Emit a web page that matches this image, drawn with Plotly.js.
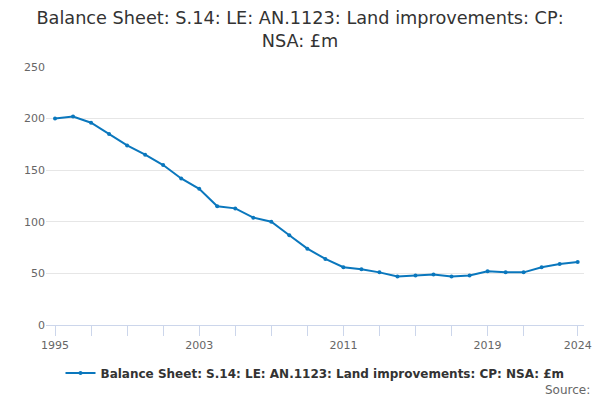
<!DOCTYPE html>
<html><head><meta charset="utf-8">
<script src="https://cdn.plot.ly/plotly-3.0.1.min.js"></script>
<style>html,body{margin:0;padding:0;background:#fff}#chart{width:600px;height:400px}</style>
</head><body><div id="chart"></div>
<script>
const years = [1995,1996,1997,1998,1999,2000,2001,2002,2003,2004,2005,2006,2007,2008,2009,2010,2011,2012,2013,2014,2015,2016,2017,2018,2019,2020,2021,2022,2023,2024];
const values = [200,202,196,185,174,165,155,142,132,115,113,104,100,87,74,64,56,54,51,47,48,49,47,48,52,51,51,56,59,61];
const tickYears = [1995,1997,1999,2001,2003,2005,2007,2009,2011,2013,2015,2017,2019,2021,2024];
const labelledYears = [1995,2003,2011,2019,2024];
const seriesName = "Balance Sheet: S.14: LE: AN.1123: Land improvements: CP: NSA: £m";

const font = "DejaVu Sans, sans-serif";
Plotly.newPlot("chart", [{
  x: years, y: values, type: "scatter", mode: "lines+markers", name: seriesName,
  line: {color: "#0a77bd", width: 2},
  marker: {color: "#0a77bd", size: 4}
}], {
  width: 600, height: 400,
  margin: {l: 46, r: 16, t: 67, b: 71},
  paper_bgcolor: "#fff", plot_bgcolor: "#fff",
  font: {family: font, color: "#666"},
  title: {text: "Balance Sheet: S.14: LE: AN.1123: Land improvements: CP:<br>NSA: £m",
          font: {family: font, size: 17.7, color: "#333"}, x: 0.5, xanchor: "center",
          yref: "container", y: 0.94, yanchor: "top"},
  xaxis: {range: [1994.5, 2024.35], tickmode: "array", tickvals: tickYears,
          ticktext: tickYears.map(y => labelledYears.includes(y) ? String(y) : ""),
          ticks: "outside", ticklen: 10, tickcolor: "#ccd6eb", showline: true, linecolor: "#ccd6eb",
          showgrid: false, zeroline: false, tickfont: {size: 11, color: "#666"}},
  yaxis: {range: [0, 250], tickvals: [0,50,100,150,200,250], gridcolor: "#e6e6e6",
          zeroline: false, showline: false, ticks: "", tickfont: {size: 11, color: "#666"}},
  showlegend: true,
  legend: {orientation: "h", x: 0.5, xanchor: "center", y: -0.13, yanchor: "top", itemwidth: 30,
           font: {family: font, size: 12, color: "#333", weight: "bold"}},
  annotations: [{text: "Source:", xref: "paper", yref: "paper", x: 1.015, xanchor: "right",
                 y: -0.218, yanchor: "top", showarrow: false, font: {family: font, size: 12, color: "#666"}}]
}, {displayModeBar: false});
</script></body></html>
